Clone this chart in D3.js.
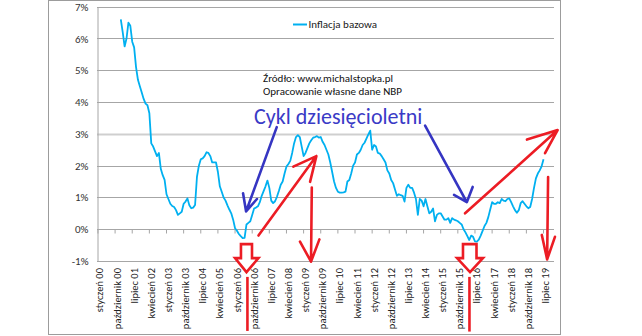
<!DOCTYPE html>
<html>
<head>
<meta charset="utf-8">
<script src="https://cdn.jsdelivr.net/npm/d3@7"></script>
<style>
  html, body { margin: 0; padding: 0; background: #fff; }
  svg { display: block; font-family: Carlito, Lato, "Open Sans", sans-serif; }
</style>
</head>
<body>
<svg id="chart" width="642" height="336"></svg>
<script>
// ---- data -------------------------------------------------------------
const monthNames = ["styczeń", "luty", "marzec", "kwiecień", "maj", "czerwiec",
  "lipiec", "sierpień", "wrzesień", "październik", "listopad", "grudzień"];
const years = ["00","01","02","03","04","05","06","07","08","09",
  "10","11","12","13","14","15","16","17","18","19"];
const seriesName = "Inflacja bazowa";
const seriesStart = "styczeń 01";
// core inflation y/y, %, monthly from January 2001 to July 2019
const coreInflation = [
  6.60, 6.20, 5.75, 6.00, 6.50, 6.40, 5.90, 5.72, 5.10, 4.70, 4.50, 4.30,
  4.10, 3.95, 3.90, 3.65, 2.70, 2.60, 2.45, 2.30, 2.40, 1.90, 1.70, 1.55,
  1.10, 0.95, 0.80, 0.73, 0.70, 0.60, 0.45, 0.50, 0.55, 0.80, 0.87, 0.97,
  0.75, 0.66, 0.68, 0.76, 1.65, 2.00, 2.20, 2.23, 2.30, 2.42, 2.40, 2.30,
  2.10, 2.10, 2.10, 1.80, 1.35, 1.18, 1.00, 0.90, 0.75, 0.62, 0.50, 0.30,
  0.03, -0.05, -0.15, -0.22, -0.28, -0.27, 0.15, 0.20, 0.25, 0.45, 0.65, 0.68,
  0.72, 0.85, 1.05, 1.20, 1.35, 1.53, 1.30, 0.90, 0.82, 0.88, 1.02, 1.20,
  1.40, 1.50, 1.75, 1.97, 2.05, 2.15, 2.40, 2.70, 2.90, 2.96, 2.90, 2.60,
  2.30, 2.40, 2.55, 2.70, 2.80, 2.88, 2.90, 2.93, 2.88, 2.90, 2.75, 2.65,
  2.50, 2.35, 2.10, 1.80, 1.50, 1.30, 1.18, 1.15, 1.15, 1.16, 1.18, 1.50,
  1.55, 1.75, 2.00, 2.10, 2.35, 2.40, 2.50, 2.65, 2.72, 2.85, 2.98, 3.10,
  2.50, 2.65, 2.60, 2.40, 2.38, 2.30, 2.20, 2.10, 1.85, 1.75, 1.55, 1.45,
  1.25, 1.05, 1.10, 1.07, 1.05, 0.87, 1.30, 1.40, 1.30, 1.30, 1.15, 0.95,
  0.45, 0.95, 0.90, 0.72, 0.95, 0.72, 0.50, 0.55, 0.65, 0.25, 0.45, 0.50,
  0.50, 0.40, 0.30, 0.30, 0.35, 0.20, 0.35, 0.30, 0.28, 0.25, 0.20, 0.15,
  0.00, -0.10, -0.22, -0.34, -0.20, -0.24, -0.38, -0.39, -0.33, -0.20, -0.05, 0.10,
  0.20, 0.38, 0.62, 0.85, 0.80, 0.80, 0.85, 0.82, 0.95, 0.90, 0.88, 0.95,
  0.97, 0.85, 0.72, 0.60, 0.52, 0.60, 0.82, 0.88, 0.80, 0.72, 0.66, 0.70,
  0.95, 1.30, 1.60, 1.75, 1.85, 1.98, 2.20
];
const yTickValues = [-1, 0, 1, 2, 3, 4, 5, 6, 7];
const labelStep = 9;          // every 9th month is labelled
const sourceLines = ["Źródło: www.michalstopka.pl", "Opracowanie własne dane NBP"];
const cycleTitle = "Cykl dziesięcioletni";

// hand-drawn annotations, in [month index, % value] units
const blueArrows = [
  { from: [93.9, 3.21], to: [77.8, 0.56], arms: [[76.2, 1.13], [83.5, 0.95]] },
  { from: [171.8, 3.26], to: [193.7, 0.85], arms: [[187.0, 1.08], [196.8, 1.33]] }
];
const redArrows = [
  { from: [84.3, -0.20], to: [114.7, 2.30], arms: [[102.6, 1.97], [111.4, 1.49]] },
  { from: [112.3, 1.31], to: [111.9, -1.02], arms: [[106.1, -0.39], [116.3, -0.32]] },
  { from: [192.8, 0.50], to: [241.4, 3.12], arms: [[225.3, 2.82], [234.8, 2.39]] },
  { from: [236.4, 1.64], to: [235.9, -0.95], arms: [[233.1, -0.18], [240.0, -0.24]] }
];
// hollow block arrows pointing down, with a marker line under each
const blockArrows = [
  { stem: [75.1, 80.9], head: [72.0, 84.3], tip: 78.0, top: -0.47, shoulder: -0.91, tipY: -1.35,
    line: { x: 78.5, y: [-1.50, -3.20] } },
  { stem: [191.7, 198.8], head: [188.6, 202.2], tip: 195.4, top: -0.47, shoulder: -0.91, tipY: -1.35,
    line: { x: 195.1, y: [-1.50, -3.22] } }
];

// ---- derived ---------------------------------------------------------
const categories = years.flatMap(yy => monthNames.map(m => `${m} ${yy}`));
const startIdx = categories.indexOf(seriesStart);
const series = coreInflation.map((v, k) => ({ cat: categories[startIdx + k], v }));

// ---- layout ---------------------------------------------------------
const svg = d3.select("#chart");
const plot = { left: 97, right: 554, top: 6.7, bottom: 261 };

const x = d3.scaleBand().domain(categories).range([plot.left, plot.right]).padding(0);
const xc = c => x(c) + x.bandwidth() / 2;
const xi = d3.scaleLinear().domain([-0.5, categories.length - 0.5]).range([plot.left, plot.right]);
const y = d3.scaleLinear().domain([-1, 7]).range([plot.bottom, plot.top]);

const axisGray = "#a6a6a6";
const lineBlue = "#00b0f0";
const penRed = "#ec1c24";
const penBlue = "#3535c2";

svg.append("rect").attr("width", 642).attr("height", 336).attr("fill", "#fff");
svg.append("rect")
  .attr("x", 48.5).attr("y", 0.5).attr("width", 512).attr("height", 334)
  .attr("fill", "none").attr("stroke", "#9c9c9c");

// gridlines
svg.append("g").selectAll("line")
  .data(yTickValues.filter(v => v !== 0))
  .join("line")
  .attr("x1", plot.left).attr("x2", plot.right)
  .attr("y1", d => Math.round(y(d)) + 0.5).attr("y2", d => Math.round(y(d)) + 0.5)
  .attr("stroke", d => d === 3 ? "#cfcfcf" : axisGray)
  .attr("stroke-width", d => d === 3 ? 2 : 1);

// y axis
const yAxis = d3.axisLeft(y).tickValues(yTickValues).tickSize(0).tickPadding(9)
  .tickFormat(d => d + "%");
const gy = svg.append("g").attr("transform", `translate(${plot.left + 0.5},0)`).call(yAxis);
gy.select(".domain").attr("stroke", axisGray);
gy.selectAll("text").attr("font-size", 11).attr("fill", "#333")
  .attr("font-family", "Carlito, Lato, sans-serif");

// category axis along the 0% line
const labelled = categories.filter((c, k) => k % labelStep === 0);
const xAxis = d3.axisBottom(x).tickValues(labelled).tickSize(4).tickFormat("");
const gx = svg.append("g").attr("transform", `translate(0,${Math.round(y(0)) + 0.5})`).call(xAxis);
gx.select(".domain").attr("stroke", axisGray).attr("d", `M${plot.left},0H${plot.right}`);
gx.selectAll(".tick line").attr("stroke", axisGray);

svg.append("g").selectAll("text")
  .data(labelled)
  .join("text")
  .attr("transform", d => `translate(${xc(d) + 2},268) rotate(-90)`)
  .attr("text-anchor", "end")
  .attr("dominant-baseline", "central")
  .attr("font-size", 10.5)
  .attr("fill", "#222")
  .text(d => d);

// series line
const line = d3.line().x(d => xc(d.cat)).y(d => y(d.v));
svg.append("path")
  .datum(series)
  .attr("d", line)
  .attr("fill", "none")
  .attr("stroke", lineBlue)
  .attr("stroke-width", 1.8)
  .attr("stroke-linejoin", "round");

// legend
svg.append("line").attr("x1", 293).attr("x2", 307).attr("y1", 24.5).attr("y2", 24.5)
  .attr("stroke", lineBlue).attr("stroke-width", 2);
svg.append("text").attr("x", 308.5).attr("y", 24.5).attr("dominant-baseline", "central")
  .attr("font-size", 11).attr("fill", "#222").text(seriesName);

// source note
svg.append("g").selectAll("text")
  .data(sourceLines)
  .join("text")
  .attr("x", 263).attr("y", (d, k) => 78 + k * 13.5)
  .attr("dominant-baseline", "central")
  .attr("font-size", 11).attr("fill", "#111")
  .text(d => d);

// annotations
const pt = p => [xi(p[0]), y(p[1])];
const arrowPath = a => {
  const f = pt(a.from), t = pt(a.to), l = pt(a.arms[0]), r = pt(a.arms[1]);
  return `M${f}L${t}M${l}L${t}L${r}`;
};
const annot = svg.append("g").attr("fill", "none")
  .attr("stroke-linecap", "round").attr("stroke-linejoin", "round");

annot.selectAll("path.blue").data(blueArrows).join("path").attr("class", "blue")
  .attr("d", arrowPath).attr("stroke", penBlue).attr("stroke-width", 2.6);

annot.selectAll("path.red").data(redArrows).join("path").attr("class", "red")
  .attr("d", arrowPath).attr("stroke", penRed).attr("stroke-width", 2.6);

annot.selectAll("path.block").data(blockArrows).join("path").attr("class", "block")
  .attr("d", b => {
    const p = [[b.stem[0], b.top], [b.stem[1], b.top], [b.stem[1], b.shoulder],
      [b.head[1], b.shoulder], [b.tip, b.tipY], [b.head[0], b.shoulder], [b.stem[0], b.shoulder]]
      .map(pt);
    return "M" + p.join("L") + "Z";
  })
  .attr("fill", "#fff").attr("stroke", penRed).attr("stroke-width", 2.6)
  .attr("stroke-linejoin", "miter");

annot.selectAll("line.marker").data(blockArrows).join("line").attr("class", "marker")
  .attr("x1", b => xi(b.line.x)).attr("x2", b => xi(b.line.x))
  .attr("y1", b => y(b.line.y[0])).attr("y2", b => y(b.line.y[1]))
  .attr("stroke", penRed).attr("stroke-width", 2.6).attr("stroke-linecap", "butt");

svg.append("text").attr("x", 254).attr("y", 116.5).attr("dominant-baseline", "central")
  .attr("font-size", 22).attr("fill", "#3a3ac6").text(cycleTitle);
</script>
</body>
</html>
